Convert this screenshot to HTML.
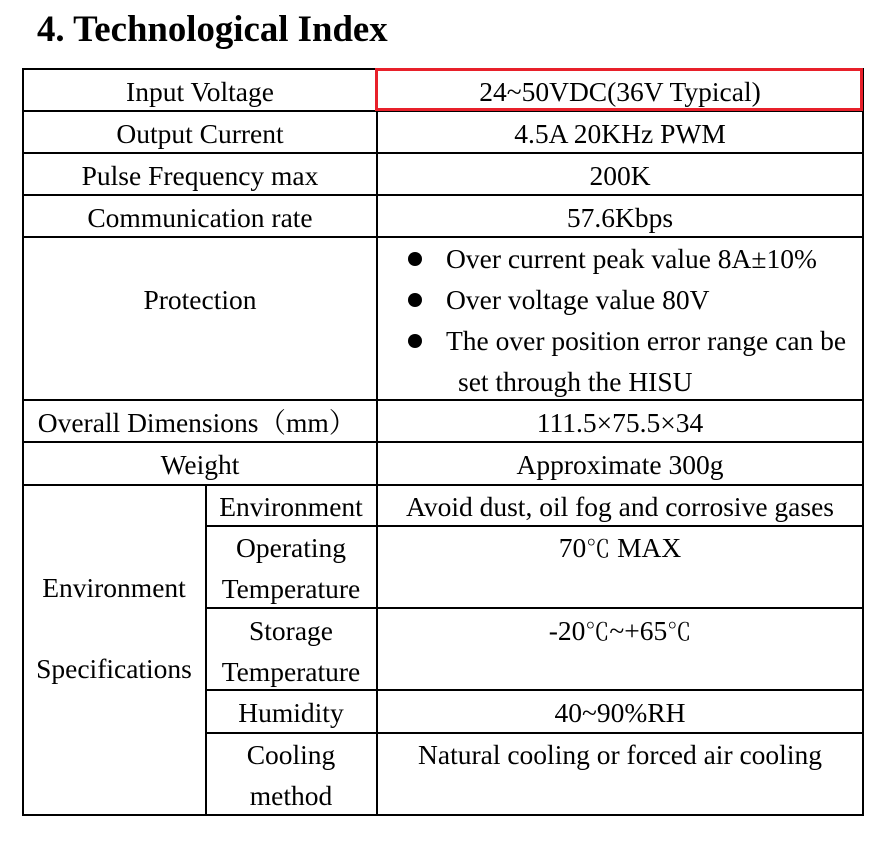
<!DOCTYPE html>
<html><head><style>
html,body{margin:0;padding:0;background:#fff;}
svg text{font-family:"Liberation Serif","Times New Roman","Noto Serif CJK SC",serif;font-size:27.5px;fill:#000;}
.c{font-family:"Noto Serif CJK SC",serif;font-size:24px;}
</style></head><body>
<svg width="887" height="837" xmlns="http://www.w3.org/2000/svg">
<text x="37" y="41" style="font-size:36.8px;font-weight:bold">4. Technological Index</text>
<g stroke="#000" stroke-width="2" fill="none">
<rect x="23" y="69" width="840" height="746"/>
<line x1="377" y1="69" x2="377" y2="815"/>
<line x1="206" y1="485" x2="206" y2="815"/>
<line x1="23" y1="111" x2="863" y2="111"/>
<line x1="23" y1="153" x2="863" y2="153"/>
<line x1="23" y1="195" x2="863" y2="195"/>
<line x1="23" y1="237" x2="863" y2="237"/>
<line x1="23" y1="400" x2="863" y2="400"/>
<line x1="23" y1="442" x2="863" y2="442"/>
<line x1="23" y1="485" x2="863" y2="485"/>
<line x1="206" y1="526" x2="863" y2="526"/>
<line x1="206" y1="608" x2="863" y2="608"/>
<line x1="206" y1="690" x2="863" y2="690"/>
<line x1="206" y1="733" x2="863" y2="733"/>
</g>
<rect x="376.5" y="69.5" width="485" height="40" stroke="#e8202a" stroke-width="3" fill="none"/>
<g text-anchor="middle">
<text x="200" y="101">Input Voltage</text>
<text x="200" y="143">Output Current</text>
<text x="200" y="185">Pulse Frequency max</text>
<text x="200" y="227">Communication rate</text>
<text x="200" y="309">Protection</text>
<text x="197" y="432">Overall Dimensions（mm）</text>
<text x="200" y="474">Weight</text>
<text x="114" y="597">Environment</text>
<text x="114" y="678">Specifications</text>
<text x="291" y="516">Environment</text>
<text x="291" y="557">Operating</text>
<text x="291" y="598">Temperature</text>
<text x="291" y="640">Storage</text>
<text x="291" y="681">Temperature</text>
<text x="291" y="722">Humidity</text>
<text x="291" y="764">Cooling</text>
<text x="291" y="805">method</text>
<text x="620" y="101">24~50VDC(36V Typical)</text>
<text x="620" y="143">4.5A 20KHz PWM</text>
<text x="620" y="185">200K</text>
<text x="620" y="227">57.6Kbps</text>
<text x="620" y="432">111.5×75.5×34</text>
<text x="620" y="474">Approximate 300g</text>
<text x="620" y="516">Avoid dust, oil fog and corrosive gases</text>
<text x="620" y="557">70<tspan class="c">℃</tspan> MAX</text>
<text x="620" y="640">-20<tspan class="c">℃</tspan>~+65<tspan class="c">℃</tspan></text>
<text x="620" y="722">40~90%RH</text>
<text x="620" y="764">Natural cooling or forced air cooling</text>
</g>
<circle cx="415" cy="259" r="7" fill="#000"/>
<circle cx="415" cy="300" r="7" fill="#000"/>
<circle cx="415" cy="341" r="7" fill="#000"/>
<text x="446" y="268">Over current peak value 8A±10%</text>
<text x="446" y="309">Over voltage value 80V</text>
<text x="446" y="350">The over position error range can be</text>
<text x="458" y="391">set through the HISU</text>
</svg>
</body></html>
